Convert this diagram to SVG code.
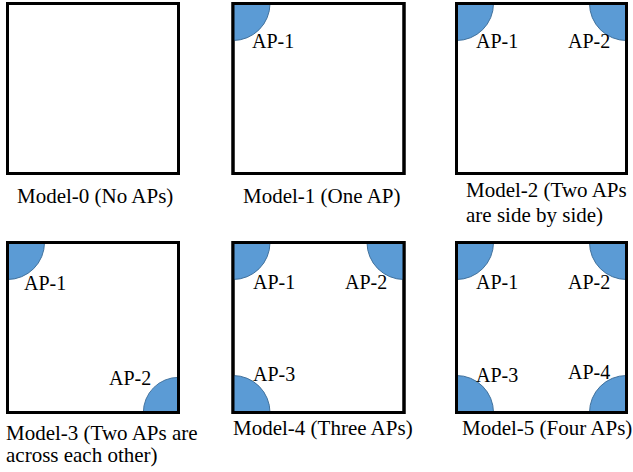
<svg xmlns="http://www.w3.org/2000/svg" width="633" height="472" viewBox="0 0 633 472">
<style>
.box{fill:#fff;stroke:#000;stroke-width:3}
.frame{fill:none;stroke:#000;stroke-width:3}
.ap{fill:#5B9BD5;stroke:#41719C;stroke-width:1}
.t20{font-size:20px;fill:#000}
.t21{font-size:21px;fill:#000}
</style>
<defs>
<path id="q" d="M0,0 H37 A37,37 0 0 1 0,37 Z"/>
</defs>
<rect width="633" height="472" fill="#fff"/>
<g font-family="Liberation Serif, serif">
<g id="model0">
<rect class="box" x="7.5" y="3.5" width="171" height="170"/>
<text class="t21" x="17" y="203">Model-0 (No APs)</text>
</g>
<g id="model1">
<rect class="box" x="233" y="3.5" width="171" height="170"/>
<use href="#q" class="ap" transform="translate(233,3.5)"/>
<rect class="frame" x="233" y="3.5" width="171" height="170"/>
<text class="t20" x="252" y="48">AP-1</text>
<text class="t21" x="243" y="203">Model-1 (One AP)</text>
</g>
<g id="model2">
<rect class="box" x="456.5" y="3.5" width="170" height="170"/>
<use href="#q" class="ap" transform="translate(456.5,3.5)"/>
<use href="#q" class="ap" transform="translate(626.5,3.5) scale(-1,1)"/>
<rect class="frame" x="456.5" y="3.5" width="170" height="170"/>
<text class="t20" x="476" y="48">AP-1</text>
<text class="t20" x="568" y="48">AP-2</text>
<text class="t21" x="466" y="197">Model-2 (Two APs</text>
<text class="t21" x="466" y="222">are side by side)</text>
</g>
<g id="model3">
<rect class="box" x="7.5" y="242.5" width="171" height="170"/>
<use href="#q" class="ap" transform="translate(7.5,242.5)"/>
<use href="#q" class="ap" transform="translate(178.5,412.5) scale(-0.95,-0.95)"/>
<rect class="frame" x="7.5" y="242.5" width="171" height="170"/>
<text class="t20" x="24" y="290">AP-1</text>
<text class="t20" x="109" y="385">AP-2</text>
<text class="t21" x="6" y="440">Model-3 (Two APs are</text>
<text class="t21" x="6" y="462">across each other)</text>
</g>
<g id="model4">
<rect class="box" x="233" y="242.5" width="171" height="170"/>
<use href="#q" class="ap" transform="translate(233,242.5)"/>
<use href="#q" class="ap" transform="translate(404,242.5) scale(-1,1)"/>
<use href="#q" class="ap" transform="translate(233,412.5) scale(1,-1)"/>
<rect class="frame" x="233" y="242.5" width="171" height="170"/>
<text class="t20" x="253" y="289">AP-1</text>
<text class="t20" x="345" y="289">AP-2</text>
<text class="t20" x="253" y="381">AP-3</text>
<text class="t21" x="233" y="435">Model-4 (Three APs)</text>
</g>
<g id="model5">
<rect class="box" x="456.5" y="242.5" width="170" height="170"/>
<use href="#q" class="ap" transform="translate(456.5,242.5)"/>
<use href="#q" class="ap" transform="translate(626.5,242.5) scale(-1,1)"/>
<use href="#q" class="ap" transform="translate(456.5,412.5) scale(1,-1)"/>
<use href="#q" class="ap" transform="translate(626.5,412.5) scale(-1,-1)"/>
<rect class="frame" x="456.5" y="242.5" width="170" height="170"/>
<text class="t20" x="476" y="289">AP-1</text>
<text class="t20" x="568" y="289">AP-2</text>
<text class="t20" x="476" y="382">AP-3</text>
<text class="t20" x="568" y="379">AP-4</text>
<text class="t21" x="462" y="435">Model-5 (Four APs)</text>
</g>
</g>
</svg>
